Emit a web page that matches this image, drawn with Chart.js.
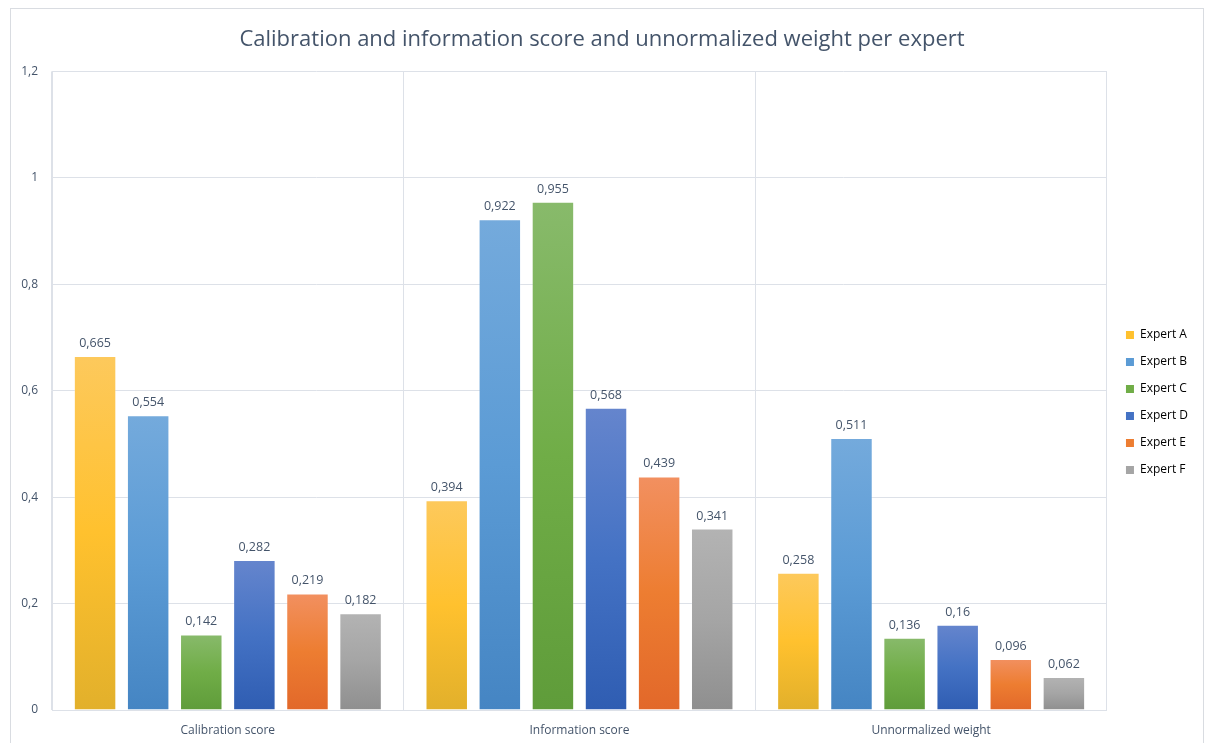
<!DOCTYPE html>
<html>
<head>
<meta charset="utf-8">
<title>Calibration and information score per expert</title>
<script src="https://cdn.jsdelivr.net/npm/chart.js@4.4.1/dist/chart.umd.min.js"></script>
<style>
  html, body { margin: 0; padding: 0; background: #fff; }
  #wrap { position: relative; width: 1208px; height: 743px; overflow: hidden; }
  #frame {
    position: absolute; left: 10px; top: 8px; width: 1194px; height: 760px;
    border: 1px solid #d9dce1; box-sizing: border-box;
  }
  canvas { position: absolute; left: 0; top: 0; }
</style>
</head>
<body>
<div id="wrap">
  <div id="frame"></div>
  <canvas id="chart" width="1208" height="743"></canvas>
</div>
<script>
(function() {
  'use strict';

  const categories = ['Calibration score', 'Information score', 'Unnormalized weight'];
  const experts = ['Expert A', 'Expert B', 'Expert C', 'Expert D', 'Expert E', 'Expert F'];

  const expertA = [0.665, 0.394, 0.258];
  const expertB = [0.554, 0.922, 0.511];
  const expertC = [0.142, 0.955, 0.136];
  const expertD = [0.282, 0.568, 0.16];
  const expertE = [0.219, 0.439, 0.096];
  const expertF = [0.182, 0.341, 0.062];

  const yTicks = [0, 0.2, 0.4, 0.6, 0.8, 1, 1.2];

  // light / base / dark shade for each expert, top to bottom of a bar
  const shades = [
    ['#fdc95c', '#ffc12e', '#e2b02b'],
    ['#74aadc', '#5b9bd5', '#4585c3'],
    ['#88ba6b', '#70ad47', '#5f9c3a'],
    ['#6585cd', '#4472c4', '#2f5db2'],
    ['#f29060', '#ed7d31', '#e2682a'],
    ['#b3b3b3', '#a5a5a5', '#8f8f8f']
  ];

  const series = [expertA, expertB, expertC, expertD, expertE, expertF];

  const comma = v => String(Math.round(v * 1000) / 1000).replace('.', ',');

  function barGradient(idx) {
    return function(ctx) {
      const chart = ctx.chart;
      const y = chart.scales && chart.scales.y;
      if (!chart.chartArea || !y || ctx.type !== 'data') return shades[idx][1];
      const top = y.getPixelForValue(ctx.raw);
      const bottom = y.getPixelForValue(0);
      const g = chart.ctx.createLinearGradient(0, top, 0, bottom);
      g.addColorStop(0, shades[idx][0]);
      g.addColorStop(0.5, shades[idx][1]);
      g.addColorStop(1, shades[idx][2]);
      return g;
    };
  }

  const datasets = experts.map((name, i) => ({
    label: name,
    data: series[i],
    backgroundColor: barGradient(i),
    borderColor: 'rgba(255,255,255,0.22)',
    borderWidth: 1,
    categoryPercentage: 0.906,
    barPercentage: 0.8
  }));

  // value labels above each bar
  const valueLabels = {
    id: 'valueLabels',
    afterDatasetsDraw(chart) {
      const ctx = chart.ctx;
      ctx.save();
      ctx.font = '12.5px "Open Sans"';
      ctx.fillStyle = '#44546a';
      ctx.textAlign = 'center';
      ctx.textBaseline = 'alphabetic';
      chart.data.datasets.forEach((ds, i) => {
        chart.getDatasetMeta(i).data.forEach((bar, j) => {
          ctx.fillText(comma(ds.data[j]), bar.x, bar.y - 9);
        });
      });
      ctx.restore();
    }
  };

  // move the legend block a little right and down
  const legendShift = {
    id: 'legendShift',
    afterLayout(chart) {
      const lg = chart.legend;
      if (!lg) return;
      lg.left += 4;
      lg.right += 4;
      lg.top += 25;
      lg.bottom += 25;
    }
  };

  const gridColor = '#dde1e8';

  new Chart(document.getElementById('chart'), {
    type: 'bar',
    data: { labels: categories, datasets: datasets },
    plugins: [valueLabels, legendShift],
    options: {
      responsive: false,
      animation: false,
      layout: { padding: { left: 10, right: 14, top: 12, bottom: 0 } },
      plugins: {
        title: {
          display: true,
          text: 'Calibration and information score and unnormalized weight per expert',
          color: '#44546a',
          font: { family: 'Open Sans', size: 22, weight: 'normal' },
          padding: { top: 15, bottom: 18 }
        },
        legend: {
          position: 'right',
          align: 'center',
          labels: {
            boxWidth: 8,
            boxHeight: 8,
            padding: 15,
            color: '#44546a',
            font: { family: 'Open Sans', size: 12 },
            generateLabels(chart) {
              return chart.data.datasets.map((ds, i) => ({
                text: ds.label,
                fillStyle: shades[i][1],
                strokeStyle: shades[i][1],
                lineWidth: 0,
                datasetIndex: i
              }));
            }
          }
        },
        tooltip: { enabled: false }
      },
      scales: {
        x: {
          afterFit(scale) { scale.height = 33; },
          grid: { color: gridColor, drawTicks: false, offset: true },
          border: { color: gridColor },
          ticks: {
            color: '#44546a',
            padding: 13,
            font: { family: 'Open Sans', size: 12 }
          }
        },
        y: {
          min: 0,
          max: 1.2,
          afterBuildTicks(scale) {
            scale.ticks = yTicks.map(v => ({ value: v }));
          },
          afterFit(scale) { scale.width = 42; },
          grid: { color: gridColor, drawTicks: false },
          border: { color: gridColor },
          ticks: {
            color: '#44546a',
            padding: 14,
            font: { family: 'Open Sans', size: 12 },
            callback: v => comma(v)
          }
        }
      }
    }
  });
})();
</script>
</body>
</html>
